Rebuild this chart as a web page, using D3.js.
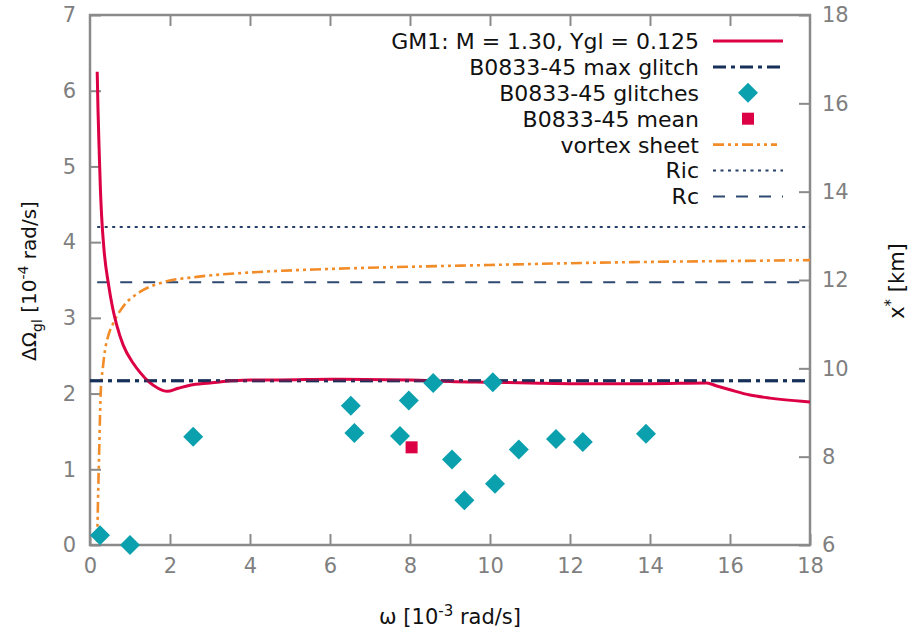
<!DOCTYPE html>
<html>
<head>
<meta charset="utf-8">
<script src="https://cdn.jsdelivr.net/npm/d3@7"></script>
<style>
  html, body { margin: 0; padding: 0; background: #fff; }
  svg { display: block; }
</style>
</head>
<body>
<svg id="chart" width="912" height="632"></svg>
<script>
// ω in 10^-3 rad/s, ΔΩ_gl in 10^-4 rad/s, x* in km
const xTicks = [0, 2, 4, 6, 8, 10, 12, 14, 16, 18];
const yLeftTicks = [0, 1, 2, 3, 4, 5, 6, 7];
const yRightTicks = [6, 8, 10, 12, 14, 16, 18];

// GM1 model curve: M = 1.30, Ygl = 0.125 (left axis)
const gm1Omega = [0.18, 0.2, 0.23, 0.26, 0.29, 0.35, 0.46, 0.57, 0.67, 0.83, 1.08, 1.25, 1.46, 1.7, 1.93,
                  2.2, 2.5, 3.0, 3.33, 4.0, 4.75, 6, 8, 9, 10, 11, 12.17, 14, 15.42, 15.67, 16, 16.5, 17, 17.33, 18];
const gm1DOmega = [6.25, 5.75, 5.2, 4.7, 4.35, 3.9, 3.45, 3.12, 2.9, 2.64, 2.40, 2.28, 2.16, 2.07, 2.03,
                   2.07, 2.11, 2.14, 2.16, 2.18, 2.18, 2.19, 2.18, 2.16, 2.15, 2.14, 2.13, 2.13, 2.14, 2.10, 2.05, 1.98, 1.94, 1.92, 1.89];

// Vortex sheet position (right axis, km)
const sheetOmega = [0.18, 0.2, 0.23, 0.27, 0.32, 0.375, 0.46, 0.58, 0.83, 1.25, 1.83, 2.67, 4, 6, 8, 10, 12, 14, 16, 18];
const sheetX = [6.07, 7.0, 8.15, 9.51, 10.0, 10.41, 10.75, 11.02, 11.40, 11.73, 11.95, 12.07, 12.17, 12.25, 12.30, 12.34, 12.38, 12.41, 12.43, 12.45];

// B0833-45 (Vela) glitches
const glitchOmega = [0.25, 1.0, 2.58, 6.52, 6.61, 7.75, 7.97, 8.58, 10.07, 9.05, 9.36, 10.125, 10.72, 11.65, 12.32, 13.9];
const glitchDOmega = [0.13, 0.0, 1.43, 1.84, 1.48, 1.44, 1.91, 2.14, 2.15, 1.13, 0.59, 0.81, 1.26, 1.40, 1.36, 1.47];
const meanOmega = [8.04];
const meanDOmega = [1.29];

const maxGlitch = 2.17;            // left axis
const ricKm = 13.2, rcKm = 11.95;  // right axis
const lineStart = 0.18;

const legendLabels = ["GM1: M = 1.30, Ygl = 0.125", "B0833-45 max glitch", "B0833-45 glitches",
                      "B0833-45 mean", "vortex sheet", "Ric", "Rc"];

const colRed = "#dc0045", colNavy = "#16305a", colCyan = "#0aa0ae", colOrange = "#f28c28",
      colDot = "#263e68", colDash = "#2f4a72", colFrame = "#8a8a8a", colTick = "#7f7f7f";

const svg = d3.select("#chart");
const L = 90, R = 810, T = 15, B = 545;

const x = d3.scaleLinear().domain([0, 18]).range([L, R]);
const yL = d3.scaleLinear().domain([0, 7]).range([B, T]);
const yR = d3.scaleLinear().domain([6, 18]).range([B, T]);

const clipId = "plotclip";
svg.append("defs").append("clipPath").attr("id", clipId)
  .append("rect").attr("x", L - 14).attr("y", T).attr("width", R - L + 14).attr("height", B - T + 14);

// Axes with inward ticks
const font = "'DejaVu Sans', sans-serif";
function styleAxis(g) {
  g.select(".domain").remove();
  g.selectAll(".tick line").attr("stroke", colFrame).attr("stroke-width", 2);
  g.selectAll(".tick text").attr("fill", colTick).style("font-family", font)
    .style("font-size", "21px");
}
svg.append("g").attr("transform", `translate(0,${B})`)
  .call(d3.axisBottom(x).tickValues(xTicks).tickFormat(d3.format("d")).tickSizeInner(-11).tickSizeOuter(0).tickPadding(13))
  .call(styleAxis);
svg.append("g").attr("transform", `translate(0,${T})`)
  .call(d3.axisTop(x).tickValues(xTicks.slice(1, -1)).tickFormat("").tickSizeInner(-11).tickSizeOuter(0))
  .call(styleAxis);
svg.append("g").attr("transform", `translate(${L},0)`)
  .call(d3.axisLeft(yL).tickValues(yLeftTicks).tickFormat(d3.format("d")).tickSizeInner(-11).tickSizeOuter(0).tickPadding(14))
  .call(styleAxis);
svg.append("g").attr("transform", `translate(${R},0)`)
  .call(d3.axisRight(yR).tickValues(yRightTicks).tickFormat(d3.format("d")).tickSizeInner(-11).tickSizeOuter(0).tickPadding(12))
  .call(styleAxis);

// Frame
svg.append("rect").attr("x", L).attr("y", T).attr("width", R - L).attr("height", B - T)
  .attr("fill", "none").attr("stroke", colFrame).attr("stroke-width", 2.5);

const plot = svg.append("g").attr("clip-path", `url(#${clipId})`);

// Reference lines
plot.append("line").attr("x1", x(lineStart)).attr("x2", x(18)).attr("y1", yR(ricKm)).attr("y2", yR(ricKm))
  .attr("stroke", colDot).attr("stroke-width", 2).attr("stroke-dasharray", "3,4.5");
plot.append("line").attr("x1", x(lineStart)).attr("x2", x(18)).attr("y1", yR(rcKm)).attr("y2", yR(rcKm))
  .attr("stroke", colDash).attr("stroke-width", 2).attr("stroke-dasharray", "12,11");

// Vortex sheet
const sheetData = sheetOmega.map((w, i) => [w, sheetX[i]]);
plot.append("path").datum(sheetData)
  .attr("d", d3.line().x(d => x(d[0])).y(d => yR(d[1])).curve(d3.curveMonotoneX))
  .attr("fill", "none").attr("stroke", colOrange).attr("stroke-width", 2.6)
  .attr("stroke-dasharray", "11,4,3,4,3,4");

// Max glitch
plot.append("line").attr("x1", x(0)).attr("x2", x(18)).attr("y1", yL(maxGlitch)).attr("y2", yL(maxGlitch))
  .attr("stroke", colNavy).attr("stroke-width", 3).attr("stroke-dasharray", "13,5,4,5");

// GM1 curve
const gm1Data = gm1Omega.map((w, i) => [w, gm1DOmega[i]]);
plot.append("path").datum(gm1Data)
  .attr("d", d3.line().x(d => x(d[0])).y(d => yL(d[1])).curve(d3.curveMonotoneX))
  .attr("fill", "none").attr("stroke", colRed).attr("stroke-width", 3);

// Max glitch dashes stay visible where the curve runs along them
plot.append("line").attr("x1", x(0)).attr("x2", x(18)).attr("y1", yL(maxGlitch)).attr("y2", yL(maxGlitch))
  .attr("stroke", colNavy).attr("stroke-width", 3).attr("stroke-dasharray", "13,5,4,5").attr("opacity", 0.55);

// Glitches
const diamond = d3.symbol().type(d3.symbolSquare).size(200);
plot.selectAll("path.glitch").data(glitchOmega.map((w, i) => [w, glitchDOmega[i]])).join("path")
  .attr("class", "glitch")
  .attr("d", diamond)
  .attr("transform", d => `translate(${x(d[0])},${yL(d[1])}) rotate(45)`)
  .attr("fill", colCyan);

// Mean
plot.selectAll("rect.mean").data(meanOmega.map((w, i) => [w, meanDOmega[i]])).join("rect")
  .attr("class", "mean")
  .attr("x", d => x(d[0]) - 6).attr("y", d => yL(d[1]) - 6)
  .attr("width", 12).attr("height", 12).attr("fill", colRed);

// Legend
const legY0 = 41, legDY = 25.9, legTextX = 699, legX1 = 713, legX2 = 783;
const leg = svg.append("g");
legendLabels.forEach((lab, i) => {
  const yy = legY0 + i * legDY;
  leg.append("text").attr("x", legTextX).attr("y", yy).attr("dy", "0.36em")
    .attr("text-anchor", "end").style("font-family", font).style("font-size", "22px")
    .attr("fill", "#111").text(lab);
  const mid = (legX1 + legX2) / 2;
  if (i === 0) {
    leg.append("line").attr("x1", legX1).attr("x2", legX2).attr("y1", yy).attr("y2", yy)
      .attr("stroke", colRed).attr("stroke-width", 3);
  } else if (i === 1) {
    leg.append("line").attr("x1", legX1).attr("x2", legX2).attr("y1", yy).attr("y2", yy)
      .attr("stroke", colNavy).attr("stroke-width", 3).attr("stroke-dasharray", "13,5,4,5");
  } else if (i === 2) {
    leg.append("path").attr("d", diamond).attr("transform", `translate(${mid},${yy}) rotate(45)`).attr("fill", colCyan);
  } else if (i === 3) {
    leg.append("rect").attr("x", mid - 6).attr("y", yy - 6).attr("width", 12).attr("height", 12).attr("fill", colRed);
  } else if (i === 4) {
    leg.append("line").attr("x1", legX1).attr("x2", legX2 - 6).attr("y1", yy).attr("y2", yy)
      .attr("stroke", colOrange).attr("stroke-width", 2.6).attr("stroke-dasharray", "11,4,3,4,3,4");
  } else if (i === 5) {
    leg.append("line").attr("x1", legX1).attr("x2", legX2).attr("y1", yy).attr("y2", yy)
      .attr("stroke", colDot).attr("stroke-width", 2).attr("stroke-dasharray", "3,4.5");
  } else {
    leg.append("line").attr("x1", legX1).attr("x2", legX2).attr("y1", yy).attr("y2", yy)
      .attr("stroke", colDash).attr("stroke-width", 2).attr("stroke-dasharray", "12,11");
  }
});

// Axis titles
const xt = svg.append("text").attr("x", 450).attr("y", 624).attr("text-anchor", "middle")
  .style("font-family", font).style("font-size", "21px").attr("fill", "#111");
xt.append("tspan").text("ω [10");
xt.append("tspan").attr("dy", -8).style("font-size", "15px").text("-3");
xt.append("tspan").attr("dy", 8).text(" rad/s]");

const ylt = svg.append("text").attr("transform", "translate(36,281) rotate(-90)").attr("text-anchor", "middle")
  .style("font-family", font).style("font-size", "20px").attr("fill", "#111");
ylt.append("tspan").text("ΔΩ");
ylt.append("tspan").attr("dy", 6).style("font-size", "14px").text("gl");
ylt.append("tspan").attr("dy", -6).text(" [10");
ylt.append("tspan").attr("dy", -8).style("font-size", "14px").text("-4");
ylt.append("tspan").attr("dy", 8).text(" rad/s]");

const yrt = svg.append("text").attr("transform", "translate(904,281) rotate(-90)").attr("text-anchor", "middle")
  .style("font-family", font).style("font-size", "21px").attr("fill", "#111");
yrt.append("tspan").text("x");
yrt.append("tspan").attr("dy", -8).style("font-size", "15px").text("*");
yrt.append("tspan").attr("dy", 8).text(" [km]");
</script>
</body>
</html>
